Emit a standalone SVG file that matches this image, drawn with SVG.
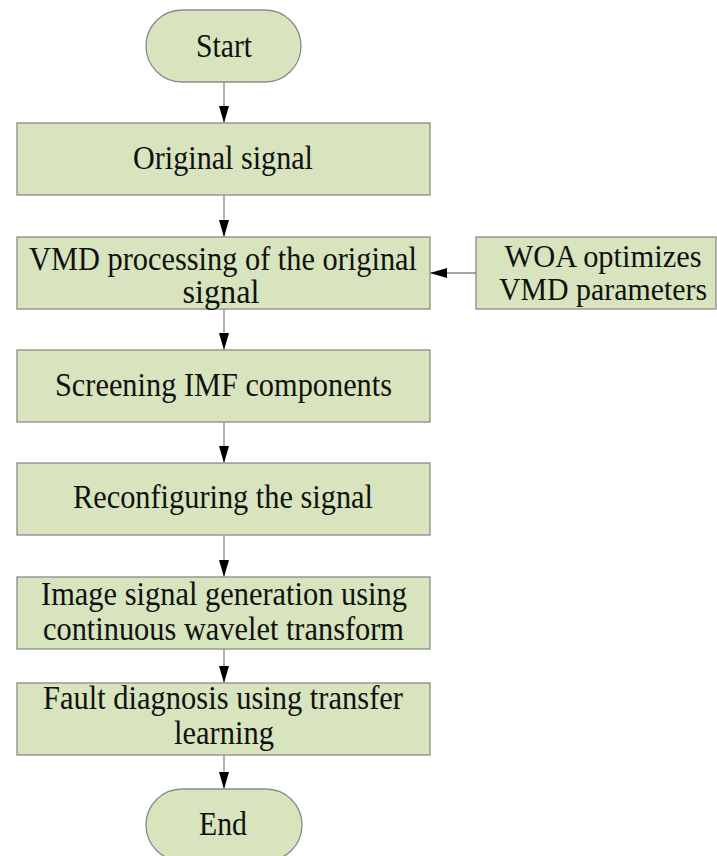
<svg xmlns="http://www.w3.org/2000/svg" width="717" height="856" viewBox="0 0 717 856">
<style>
.box{fill:#d7e4bd;stroke:#8a8a8a;stroke-width:1.3}
.t{font-family:'Times New Roman','Liberation Serif','DejaVu Serif',serif;font-size:33px;fill:#111;text-anchor:middle}
.s{font-size:31px}
.c{stroke:#8a8a8a;stroke-width:1.3;fill:none;marker-end:url(#ah)}
</style>
<defs>
<marker id="ah" markerUnits="userSpaceOnUse" markerWidth="17" markerHeight="10" refX="17" refY="5" orient="auto">
<path d="M0,0 L17,5 L0,10 z" fill="#000"/>
</marker>
</defs>
<rect width="717" height="856" fill="#fff"/>
<g id="connectors">
<line class="c" x1="224" y1="82" x2="224" y2="123"/>
<line class="c" x1="224" y1="195" x2="224" y2="237"/>
<line class="c" x1="224" y1="309" x2="224" y2="350"/>
<line class="c" x1="224" y1="422" x2="224" y2="463"/>
<line class="c" x1="224" y1="535" x2="224" y2="577"/>
<line class="c" x1="224" y1="649" x2="224" y2="683"/>
<line class="c" x1="224" y1="755" x2="224" y2="789"/>
<line class="c" x1="476" y1="273" x2="430" y2="273"/>
</g>
<g id="start">
<rect class="box" x="146" y="10" width="155" height="72" rx="36" ry="36"/>
<text class="t" x="224" y="57" textLength="56" lengthAdjust="spacingAndGlyphs">Start</text>
</g>
<g id="original">
<rect class="box" x="17" y="123" width="413" height="72"/>
<text class="t" x="223" y="169" textLength="180" lengthAdjust="spacingAndGlyphs">Original signal</text>
</g>
<g id="vmd">
<rect class="box" x="17" y="237" width="413" height="72"/>
<text class="t" x="223" y="270" textLength="388" lengthAdjust="spacingAndGlyphs">VMD processing of the original</text>
<text class="t" x="221" y="303" textLength="77" lengthAdjust="spacingAndGlyphs">signal</text>
</g>
<g id="woa">
<rect class="box" x="476" y="237" width="240" height="72"/>
<text class="t s" x="603" y="267" textLength="197" lengthAdjust="spacingAndGlyphs">WOA optimizes</text>
<text class="t s" x="603" y="300" textLength="208" lengthAdjust="spacingAndGlyphs">VMD parameters</text>
</g>
<g id="screening">
<rect class="box" x="17" y="350" width="413" height="72"/>
<text class="t" x="223.5" y="396" textLength="337" lengthAdjust="spacingAndGlyphs">Screening IMF components</text>
</g>
<g id="reconfiguring">
<rect class="box" x="17" y="463" width="413" height="72"/>
<text class="t" x="223" y="508" textLength="300" lengthAdjust="spacingAndGlyphs">Reconfiguring the signal</text>
</g>
<g id="image">
<rect class="box" x="17" y="577" width="413" height="72"/>
<text class="t" x="224" y="605" textLength="366" lengthAdjust="spacingAndGlyphs">Image signal generation using</text>
<text class="t" x="223.5" y="640" textLength="361" lengthAdjust="spacingAndGlyphs">continuous wavelet transform</text>
</g>
<g id="fault">
<rect class="box" x="17" y="683" width="413" height="72"/>
<text class="t" x="223" y="709" textLength="360" lengthAdjust="spacingAndGlyphs">Fault diagnosis using transfer</text>
<text class="t" x="224" y="744" textLength="100" lengthAdjust="spacingAndGlyphs">learning</text>
</g>
<g id="end">
<rect class="box" x="146" y="789" width="156" height="72" rx="36" ry="36"/>
<text class="t" x="223" y="835" textLength="48" lengthAdjust="spacingAndGlyphs">End</text>
</g>
</svg>
